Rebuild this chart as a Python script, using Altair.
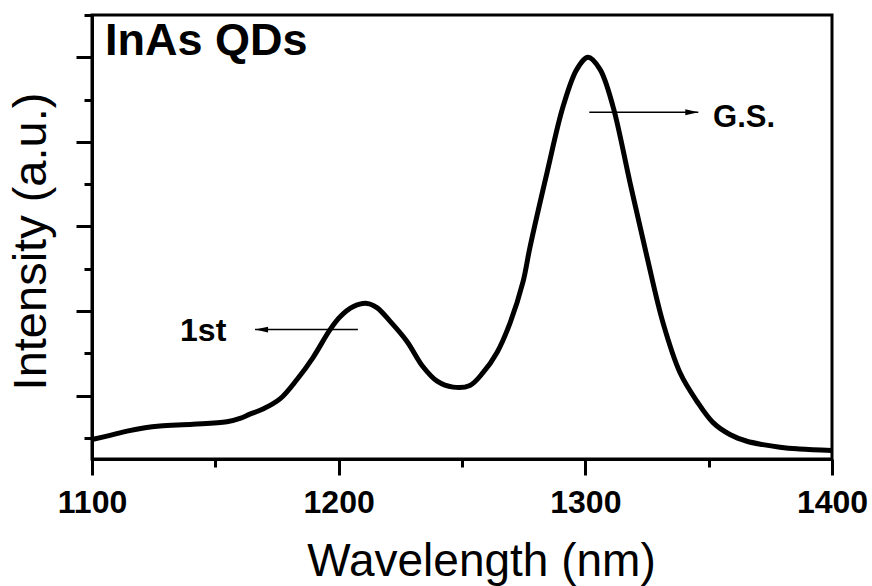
import altair as alt
import pandas as pd

# Spectrum
wavelength = [1100, 1107.3, 1114.2, 1121.5, 1127.6, 1140.9, 1154.7, 1160, 1164, 1169.3,
              1176.2, 1183.1, 1189.6, 1196.5, 1200.5, 1205.8, 1211.5, 1215.5, 1220.8, 1227.7,
              1234.2, 1239.9, 1246.4, 1253.2, 1258.5, 1264.2, 1269.5, 1274.7, 1277.6, 1284.5,
              1291.0, 1296.6, 1301.1, 1305.9, 1311.2, 1318.1, 1325.0, 1331.5, 1338.4, 1345.3,
              1351.8, 1358.6, 1365.5, 1372.0, 1378.9, 1385.8, 1392.3, 1400]
intensity = [0.48, 0.53, 0.58, 0.62, 0.64, 0.66, 0.69, 0.73, 0.78, 0.84,
             0.96, 1.19, 1.45, 1.78, 1.93, 2.05, 2.09, 2.04, 1.88, 1.64,
             1.34, 1.17, 1.10, 1.12, 1.27, 1.51, 1.86, 2.34, 2.76, 3.64,
             4.42, 4.86, 5.00, 4.86, 4.42, 3.52, 2.64, 1.86, 1.27, 0.93,
             0.68, 0.54, 0.46, 0.42, 0.39, 0.37, 0.36, 0.35]

x_major = [1100, 1200, 1300, 1400]
x_minor = [1150, 1250, 1350]
y_major = [1, 2, 3, 4, 5]
y_minor = [0.5, 1.5, 2.5, 3.5, 4.5, 5.5]

# Annotations
label_text = ["InAs QDs", "G.S.", "1st"]
label_wl = [1105.3, 1351.8, 1135.7]
label_int = [5.03, 4.18, 1.64]
label_size = [45, 31, 32]
arrow_start = [1301.6, 1207.8]
arrow_end = [1345.8, 1166.1]
arrow_int = [4.35, 1.78]
arrow_dir = ["right", "left"]

FONT = "Liberation Sans"

df = pd.DataFrame({"wl": wavelength, "int": intensity})
labels = pd.DataFrame({"wl": label_wl, "int": label_int, "text": label_text, "size": label_size})
arrows = pd.DataFrame({"wl": arrow_start, "wl2": arrow_end, "int": arrow_int, "dir": arrow_dir})
heads = pd.DataFrame({"wl": arrow_end, "int": arrow_int, "dir": arrow_dir})

xs = alt.Scale(domain=[1100, 1400], nice=False, zero=False)
ys = alt.Scale(domain=[0.25, 5.5], nice=False, zero=False)

x_main_axis = alt.Axis(values=x_major, format="d", orient="bottom", grid=False,
                       labelFont=FONT, labelFontWeight="bold", labelFontSize=32,
                       labelColor="black", labelPadding=12, labelFlush=False,
                       labelOverlap=False, labelBound=False,
                       tickSize=16, tickWidth=3, tickColor="black",
                       domainWidth=3, domainColor="black",
                       title="Wavelength (nm)", titleFont=FONT, titleFontSize=46,
                       titleFontWeight="normal", titleColor="black",
                       titleX=389, titleY=116, titleBaseline="alphabetic", titleAlign="center")
y_main_axis = alt.Axis(values=y_major, orient="left", grid=False, labels=False,
                       tickSize=16, tickWidth=3, tickColor="black",
                       domainWidth=3, domainColor="black",
                       title="Intensity (a.u.)", titleFont=FONT, titleFontSize=47,
                       titleFontWeight="normal", titleColor="black",
                       titleX=-47, titleY=226, titleAngle=270,
                       titleBaseline="alphabetic", titleAlign="center")
x_minor_axis = alt.Axis(values=x_minor, orient="bottom", grid=False, labels=False,
                        domain=False, tickSize=8, tickWidth=3, tickColor="black", title=None)
y_minor_axis = alt.Axis(values=y_minor, orient="left", grid=False, labels=False,
                        domain=False, tickSize=8, tickWidth=3, tickColor="black", title=None)

line = alt.Chart(df).mark_line(color="black", strokeWidth=5, interpolate="catmull-rom").encode(
    x=alt.X("wl:Q", scale=xs, axis=x_main_axis),
    y=alt.Y("int:Q", scale=ys, axis=y_main_axis),
)

minor = alt.Chart(df).mark_line(opacity=0).encode(
    x=alt.X("wl:Q", scale=xs, axis=x_minor_axis),
    y=alt.Y("int:Q", scale=ys, axis=y_minor_axis),
)

arrow_lines = alt.Chart(arrows).mark_rule(color="black", strokeWidth=1.5).encode(
    x=alt.X("wl:Q", scale=xs, axis=None),
    x2="wl2:Q",
    y=alt.Y("int:Q", scale=ys, axis=None),
)

head_r = alt.Chart(heads).transform_filter(alt.datum.dir == "right").mark_point(
    shape="M 0 0 L -2 -0.45 L -2 0.45 Z", filled=True, color="black", opacity=1, size=169, strokeWidth=0
).encode(x=alt.X("wl:Q", scale=xs, axis=None), y=alt.Y("int:Q", scale=ys, axis=None))

head_l = alt.Chart(heads).transform_filter(alt.datum.dir == "left").mark_point(
    shape="M 0 0 L 2 -0.45 L 2 0.45 Z", filled=True, color="black", opacity=1, size=169, strokeWidth=0
).encode(x=alt.X("wl:Q", scale=xs, axis=None), y=alt.Y("int:Q", scale=ys, axis=None))

texts = alt.Chart(labels).mark_text(
    font=FONT, fontWeight="bold", color="black", align="left", baseline="alphabetic"
).encode(
    x=alt.X("wl:Q", scale=xs, axis=None),
    y=alt.Y("int:Q", scale=ys, axis=None),
    text="text:N",
    size=alt.Size("size:Q", scale=None, legend=None),
)

chart = alt.layer(line, minor, arrow_lines, head_r, head_l, texts).resolve_axis(
    x="independent", y="independent"
).properties(
    width=740, height=444,
    padding={"left": 92, "top": 15, "right": 40, "bottom": 127},
    autosize=alt.AutoSizeParams(type="none"),
    background="white",
).configure_view(stroke="black", strokeWidth=3)

chart.save("out.html", embed_options={"renderer": "svg", "actions": False})
